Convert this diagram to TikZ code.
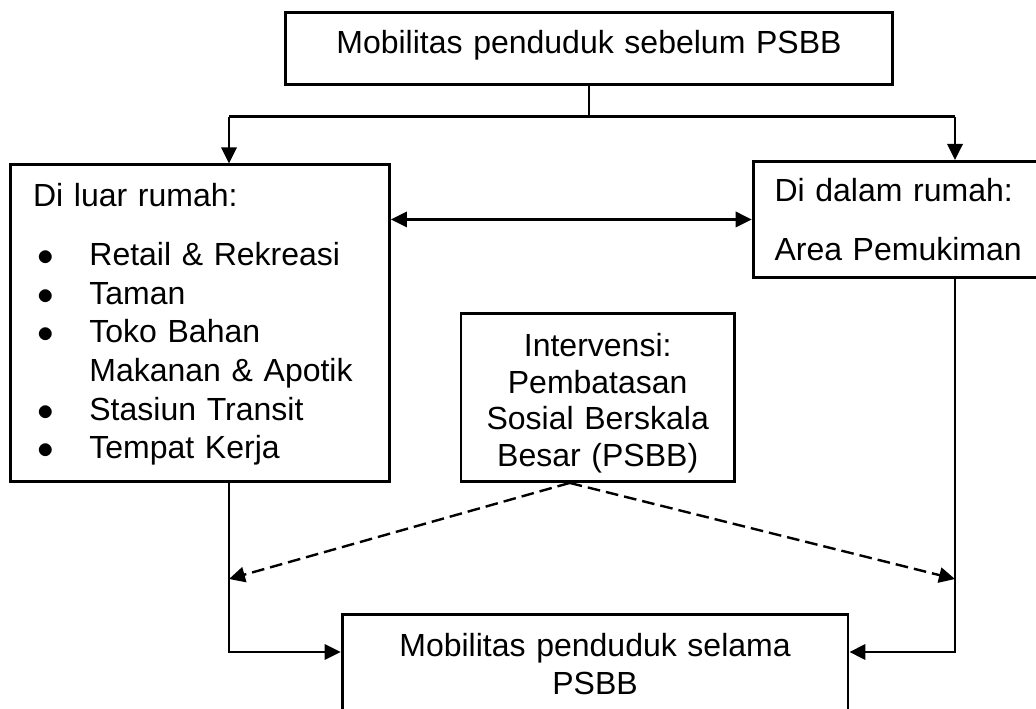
\documentclass[tikz,border=0pt]{standalone}
\usepackage{fontspec}
\setmainfont{Liberation Sans}
\usetikzlibrary{arrows.meta}
\newcommand{\poin}{\makebox[42.2pt][l]{\hspace{3.2pt}\fontsize{30}{30}\selectfont$\bullet$}}

\begin{document}
\begin{tikzpicture}[x=0.75pt,y=0.75pt,
    >={Triangle[length=12pt,width=11.5pt]},
    kotak/.style={draw=black,line width=2.2pt,rectangle,inner ysep=0pt,anchor=north west,
                  font=\fontsize{24}{29}\selectfont},
    garis/.style={black,line width=1.8pt},
    putus/.style={black,line width=1.8pt,dash pattern=on 9.5pt off 4.5pt}]
    \useasboundingbox (0,0) rectangle (1036,-709);
    % kotak
    \node[kotak,inner xsep=0pt,text width=455.25pt,align=center,text height=30.5pt,text depth=23.7pt]
        (sblm) at (284,-11) {Mobilitas penduduk sebelum PSBB};
    \node[kotak,inner xsep=17pt,text width=250.25pt,align=left,text height=31.1pt,text depth=206.6pt]
        (luar) at (9,-163.5) {Di luar rumah:\\[15.3pt]
            \poin Retail \& Rekreasi\\
            \poin Taman\\
            \poin Toko Bahan\\
            \hspace*{42.2pt}Makanan \& Apotik\\
            \poin Stasiun Transit\\
            \poin Tempat Kerja};
    \node[kotak,inner xsep=16pt,text width=199.2pt,align=left,text height=30pt,text depth=57pt]
        (dalam) at (751.7,-160) {Di dalam rumah:\\[15pt]Area Pemukiman};
    \node[kotak,inner xsep=0pt,text width=205.1pt,align=center,text height=32.25pt,text depth=93.75pt,
          font=\fontsize{24}{27.5}\selectfont]
        (intv) at (459.5,-312) {Intervensi:\\Pembatasan\\Sosial Berskala\\Besar (PSBB)};
    \node[kotak,inner xsep=0pt,text width=379.35pt,align=center,text height=31.3pt,text depth=80pt,
          font=\fontsize{24}{28.7}\selectfont]
        (slm) at (340.7,-613.3) {Mobilitas penduduk selama\\PSBB};
    % titik bantu
    \coordinate (ki) at (229,-116.7);
    \coordinate (ka) at (955,-116.7);
    \coordinate (ymasuk) at (0,-652);
    \coordinate (yputus) at (0,-579);
    % panah
    \draw[garis] (sblm.south) -- (sblm.south |- ki);
    \draw[garis] (ki) -- (ka);
    \draw[garis,->] (ki) -- (ki |- luar.north);
    \draw[garis,->] (ka) -- (ka |- dalam.north);
    \draw[garis,<->] (luar.east |- dalam.west) -- (dalam.west);
    \draw[garis,->] (ki |- luar.south) |- (ymasuk -| slm.west);
    \draw[garis,->] (ka |- dalam.south) |- (ymasuk -| slm.east);
    \draw[putus,->] ([xshift=-21pt]intv.south) -- (yputus -| ki);
    \draw[putus,->] ([xshift=-21pt]intv.south) -- (yputus -| ka);
\end{tikzpicture}
\end{document}
